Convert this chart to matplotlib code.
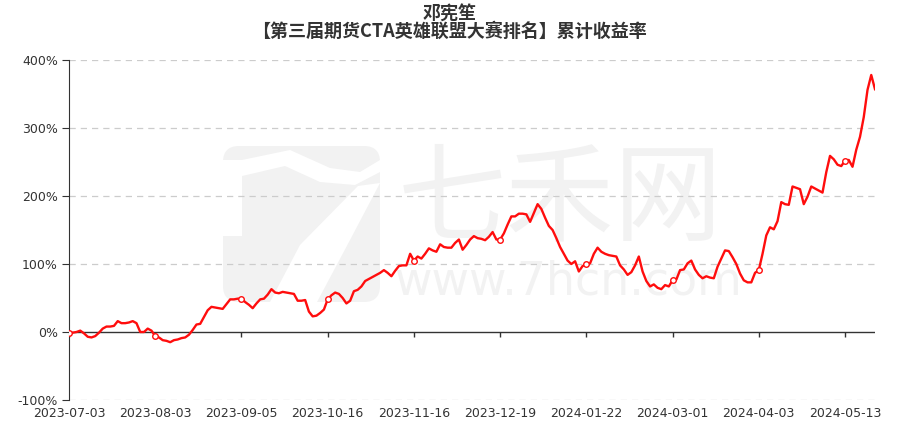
import matplotlib
matplotlib.use("Agg")
import matplotlib.pyplot as plt
import numpy as np
from matplotlib.patches import FancyBboxPatch, Polygon
from matplotlib.transforms import Affine2D

# cumulative return (%), one value per trading day, 2023-07-03 .. 2024-05-23
returns = [
    -2, -1, 0, 2, -2, -7, -8, -6, -1, 5,
    8, 8, 9, 16, 13, 13, 14, 16, 13, 0,
    0, 5, 2, -6, -8, -12, -13, -15, -12, -11,
    -9, -8, -4, 3, 11, 12, 22, 32, 37, 36,
    35, 34, 41, 48, 48, 49, 49, 44, 40, 35,
    42, 48, 49, 55, 63, 58, 57, 59, 58, 57,
    56, 46, 46, 47, 30, 23, 24, 28, 33, 48,
    54, 58, 56, 50, 42, 46, 60, 62, 67, 75,
    78, 81, 84, 87, 91, 87, 82, 90, 97, 98,
    98, 115, 105, 111, 108, 115, 123, 120, 118, 129,
    125, 124, 124, 131, 136, 121, 128, 136, 141, 138,
    137, 135, 140, 147, 136, 136, 145, 158, 170, 170,
    174, 174, 173, 162, 175, 188, 181, 168, 156, 150,
    138, 125, 115, 105, 100, 104, 89, 97, 100, 101,
    115, 124, 118, 115, 113, 112, 111, 98, 92, 84,
    88, 98, 111, 89, 75, 67, 70, 65, 63, 69,
    67, 76, 77, 91, 92, 101, 105, 92, 84, 79,
    82, 80, 79, 96, 108, 120, 119, 110, 100, 86,
    76, 73, 73, 87, 91, 115, 142, 154, 151, 163,
    191, 188, 187, 214, 212, 210, 188, 199, 214, 211,
    208, 205, 235, 259, 254, 246, 244, 252, 253, 243,
    268, 287, 316, 356, 378, 357,
]
tick_labels = ["2023-07-03", "2023-08-03", "2023-09-05", "2023-10-16", "2023-11-16",
               "2023-12-19", "2024-01-22", "2024-03-01", "2024-04-03", "2024-05-13"]
tick_step = 23
y_ticks = [-100, 0, 100, 200, 300, 400]

red = "#ff0d0d"
dark = "#333333"
grid = "#cccccc"
wm = "#f2f2f2"
cjk = ["Noto Sans CJK SC", "DejaVu Sans"]

fig = plt.figure(figsize=(8.99, 4.21), dpi=100, facecolor="white")
ax = fig.add_axes([69 / 899, 1 - 400 / 421, 806 / 899, 340 / 421])

# watermark, drawn inside the axes but placed in pixel coordinates (top-left origin)
pix = Affine2D().scale(1 / 899, -1 / 421).translate(0, 1) + fig.transFigure
ax.add_patch(FancyBboxPatch((223, 146), 157, 156, boxstyle="round,pad=0,rounding_size=16",
                            transform=pix, facecolor=wm, edgecolor="none", zorder=0,
                            clip_on=False))
white_shapes = [
    [(242, 160), (290, 150), (330, 168), (360, 172), (380, 160),
     (380, 172), (355, 185), (320, 182), (285, 166), (242, 176)],
    [(358, 186), (380, 183), (350, 240), (317, 302), (270, 302), (300, 245)],
    [(223, 160), (242, 160), (242, 236), (223, 236)],
]
for pts in white_shapes:
    ax.add_patch(Polygon(pts, closed=True, transform=pix, facecolor="white",
                         edgecolor="none", zorder=0.1, clip_on=False))
ax.text(560, 202, "七禾网", transform=pix, family=cjk, fontsize=78, color=wm,
        ha="center", va="center", zorder=0.2)
ax.text(568, 282, "www.7hcn.com", transform=pix, family="DejaVu Sans", fontsize=33,
        color=wm, ha="center", va="center", zorder=0.2)

x = np.arange(len(returns))
ticks = x[::tick_step]

ax.plot(x, returns, color=red, linewidth=1.7, zorder=3)
ax.plot(ticks, np.array(returns)[ticks], linestyle="none", marker="o", markersize=4,
        markerfacecolor="white", markeredgecolor=red, markeredgewidth=1, zorder=4)

ax.set_xlim(0, len(returns) - 1)
ax.set_ylim(-100, 400)
ax.set_yticks(y_ticks)
ax.set_yticklabels([f"{v}%" for v in y_ticks])
ax.set_xticks(ticks)
ax.set_xticklabels(tick_labels)

for v in y_ticks:
    if v != 0:
        ax.axhline(v, color=grid, linewidth=0.9, linestyle=(0, (5, 4)), zorder=1)
ax.axhline(0, color=dark, linewidth=1, zorder=2)
ax.vlines(ticks, -7.4, 0, color=dark, linewidth=1, zorder=2)

ax.spines[["top", "right", "bottom"]].set_visible(False)
ax.spines["left"].set_color(dark)
ax.tick_params(axis="y", colors=dark, labelcolor=dark, labelsize=9, length=5, pad=3)
ax.tick_params(axis="x", length=0, labelcolor=dark, labelsize=9, pad=5)

fig.text(0.5, 1 - 13 / 421, "邓宪笙", family=cjk, fontsize=13, fontweight="bold",
         color=dark, ha="center", va="center")
fig.text(0.5, 1 - 31 / 421, "【第三届期货CTA英雄联盟大赛排名】累计收益率", family=cjk,
         fontsize=13, fontweight="bold", color=dark, ha="center", va="center")

fig.savefig("out.png", dpi=100, facecolor="white")
